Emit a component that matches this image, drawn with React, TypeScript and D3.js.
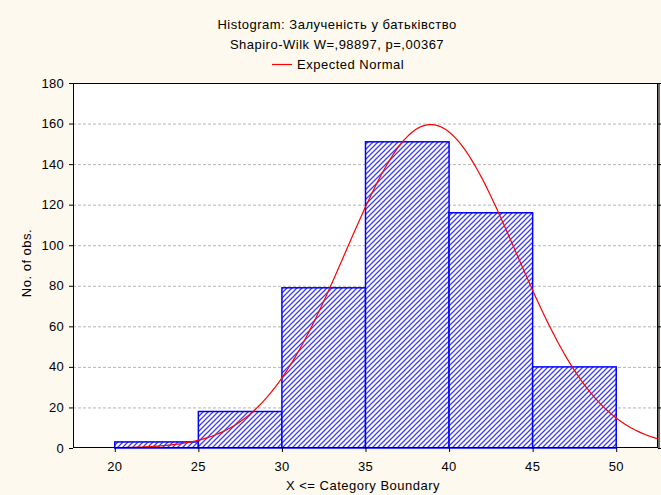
import { useEffect, useRef } from 'react'
import * as d3 from 'd3'

const BIN_STARTS = [20, 25, 30, 35, 40, 45]
const BIN_WIDTH = 5
const COUNTS = [3, 18, 79, 151, 116, 40]
const X_TICKS = [20, 25, 30, 35, 40, 45, 50]
const Y_TICKS = [0, 20, 40, 60, 80, 100, 120, 140, 160, 180]
// fitted normal parameters (expected normal curve)
const MEAN = 38.9
const SD = 5.09

const W = 661
const H = 495
const FONT = '"Liberation Sans", Arial, sans-serif'

export default function App() {
  const svgRef = useRef<SVGSVGElement>(null)

  useEffect(() => {
    const svgEl = svgRef.current
    if (!svgEl) return
    const svg = d3.select(svgEl)
    svg.selectAll('*').remove()

    const m = { left: 73, right: 658, top: 83, bottom: 448 }
    const x = d3.scaleLinear().domain([17.5, 52.5]).range([m.left, m.right])
    const y = d3.scaleLinear().domain([0, 180]).range([m.bottom, m.top])

    svg.append('rect').attr('width', W).attr('height', H).attr('fill', '#fdf9ee')

    const defs = svg.append('defs')
    const pat = defs.append('pattern').attr('id', 'hatch').attr('patternUnits', 'userSpaceOnUse')
      .attr('width', 5).attr('height', 5)
    pat.append('rect').attr('width', 5).attr('height', 5).attr('fill', '#ffffff')
    pat.append('path').attr('d', 'M-1,6 L6,-1 M-1,1 L1,-1 M4,6 L6,4')
      .attr('stroke', '#3c3cf4').attr('stroke-width', 1.25)
    defs.append('clipPath').attr('id', 'plotclip').append('rect')
      .attr('x', m.left).attr('y', m.top).attr('width', m.right - m.left).attr('height', m.bottom - m.top)

    // plot area
    svg.append('rect').attr('x', m.left).attr('y', m.top)
      .attr('width', m.right - m.left).attr('height', m.bottom - m.top).attr('fill', '#ffffff')

    // gridlines
    svg.append('g').selectAll('line').data(Y_TICKS.filter(t => t > 0 && t < 180)).join('line')
      .attr('x1', m.left).attr('x2', m.right)
      .attr('y1', d => y(d) + 0.5).attr('y2', d => y(d) + 0.5)
      .attr('stroke', '#b4b4b4').attr('stroke-width', 1).attr('stroke-dasharray', '3,2')

    // bars
    svg.append('g').selectAll('rect').data(BIN_STARTS).join('rect')
      .attr('x', d => x(d))
      .attr('y', (_, i) => y(COUNTS[i]))
      .attr('width', d => x(d + BIN_WIDTH) - x(d))
      .attr('height', (_, i) => y(0) - y(COUNTS[i]))
      .attr('fill', 'url(#hatch)')
      .attr('stroke', '#0000ff').attr('stroke-width', 1.5)

    // expected normal curve
    const n = d3.sum(COUNTS)
    const expected = (v: number) =>
      (n * BIN_WIDTH / (SD * Math.sqrt(2 * Math.PI))) * Math.exp(-0.5 * ((v - MEAN) / SD) ** 2)
    const xs = d3.range(17.5, 52.6, 0.1)
    const line = d3.line<number>().x(d => x(d)).y(d => y(expected(d)))
    svg.append('path').datum(xs).attr('d', line).attr('fill', 'none')
      .attr('stroke', '#ff0000').attr('stroke-width', 1.2).attr('clip-path', 'url(#plotclip)')

    // frame
    svg.append('rect').attr('x', m.left + 0.5).attr('y', m.top + 0.5)
      .attr('width', m.right - m.left - 1).attr('height', m.bottom - m.top - 1)
      .attr('fill', 'none').attr('stroke', '#000000').attr('stroke-width', 1)
    svg.append('line').attr('x1', m.right + 1).attr('x2', m.right + 1)
      .attr('y1', m.top).attr('y2', m.bottom + 1)
      .attr('stroke', '#6e6e6e').attr('stroke-width', 2)

    // y ticks
    const yt = svg.append('g')
    yt.selectAll('line.l').data(Y_TICKS).join('line').attr('class', 'l')
      .attr('x1', m.left - 4).attr('x2', m.left)
      .attr('y1', d => y(d) + 0.5).attr('y2', d => y(d) + 0.5).attr('stroke', '#000')
    yt.selectAll('line.r').data(Y_TICKS).join('line').attr('class', 'r')
      .attr('x1', m.right).attr('x2', m.right + 3)
      .attr('y1', d => y(d) + 0.5).attr('y2', d => y(d) + 0.5).attr('stroke', '#000')
    yt.selectAll('text').data(Y_TICKS).join('text')
      .attr('x', m.left - 9).attr('y', d => y(d) + 4.5)
      .attr('text-anchor', 'end').attr('font-family', FONT).attr('font-size', 13)
      .attr('letter-spacing', 0.3).attr('fill', '#000').text(d => d)

    // x ticks
    const xt = svg.append('g')
    xt.selectAll('line').data(X_TICKS).join('line')
      .attr('x1', d => x(d) + 0.5).attr('x2', d => x(d) + 0.5)
      .attr('y1', m.bottom).attr('y2', m.bottom + 4).attr('stroke', '#000')
    xt.selectAll('text').data(X_TICKS).join('text')
      .attr('x', d => x(d)).attr('y', m.bottom + 23)
      .attr('text-anchor', 'middle').attr('font-family', FONT).attr('font-size', 13)
      .attr('letter-spacing', 0.3).attr('fill', '#000').text(d => d)

    const label = (sel: d3.Selection<SVGTextElement, unknown, null, undefined>) =>
      sel.attr('font-family', FONT).attr('font-size', 13).attr('letter-spacing', 0.5).attr('fill', '#000')

    // axis titles
    svg.append('text').attr('x', 363).attr('y', 490).attr('text-anchor', 'middle')
      .call(label).text('X <= Category Boundary')
    svg.append('text').attr('transform', `translate(31,263) rotate(-90)`)
      .attr('text-anchor', 'middle').call(label).text('No. of obs.')

    // titles and legend
    svg.append('text').attr('x', 337).attr('y', 29).attr('text-anchor', 'middle')
      .call(label).text('Histogram: Залученість у батьківство')
    svg.append('text').attr('x', 337).attr('y', 49).attr('text-anchor', 'middle')
      .call(label).text('Shapiro-Wilk W=,98897, p=,00367')
    svg.append('line').attr('x1', 272).attr('x2', 292).attr('y1', 64.5).attr('y2', 64.5)
      .attr('stroke', '#ff0000').attr('stroke-width', 1.2)
    svg.append('text').attr('x', 297).attr('y', 69).call(label).text('Expected Normal')
  }, [])

  return (
    <svg ref={svgRef} width={W} height={H}
      style={{ position: 'absolute', left: 0, top: 0, display: 'block' }} />
  )
}
